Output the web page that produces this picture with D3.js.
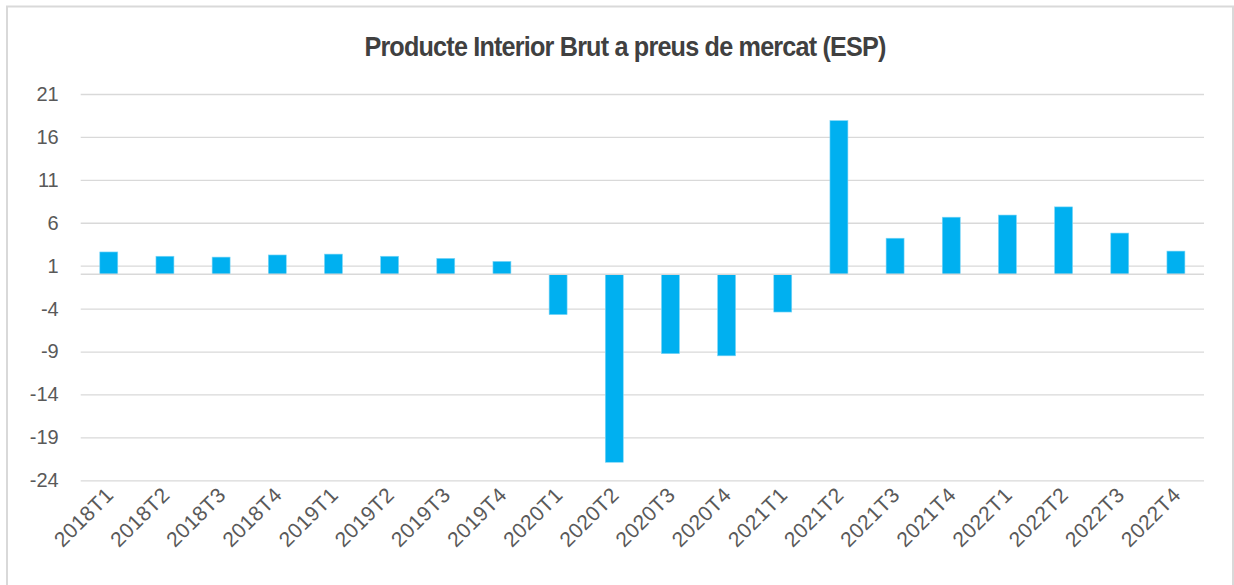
<!DOCTYPE html>
<html>
<head>
<meta charset="utf-8">
<script src="https://cdn.jsdelivr.net/npm/d3@7"></script>
<style>
  body { margin: 0; background: #fff; }
  svg { display: block; }
</style>
</head>
<body>
<script>
const quarters = ['2018T1','2018T2','2018T3','2018T4','2019T1','2019T2','2019T3','2019T4',
  '2020T1','2020T2','2020T3','2020T4','2021T1','2021T2','2021T3','2021T4',
  '2022T1','2022T2','2022T3','2022T4'];
const pibValues = [2.6, 2.1, 2.0, 2.25, 2.35, 2.1, 1.85, 1.5,
  -4.7, -21.9, -9.25, -9.5, -4.4, 17.9, 4.2, 6.65,
  6.9, 7.85, 4.8, 2.7];
const yTicks = [21, 16, 11, 6, 1, -4, -9, -14, -19, -24];
const TITLE = 'Producte Interior Brut a preus de mercat (ESP)';

const WIDTH = 1234;
const HEIGHT = 585;
const LEFT = 80.7, RIGHT = 1204, TOP = 94, BOTTOM = 480.3;
const FONT = 'Liberation Sans, Arial, sans-serif';

let svg = d3.select('body').append('svg')
  .attr('width', WIDTH)
  .attr('height', HEIGHT);

// outer chart border
svg.append('rect')
  .attr('x', 7).attr('y', 6.5)
  .attr('width', 1226).attr('height', 600)
  .attr('fill', 'none')
  .attr('stroke', '#d9d9d9')
  .attr('stroke-width', 2);

// title, a bit condensed like the original
svg.append('text')
  .attr('transform', 'translate(625,56) scale(0.9,1)')
  .attr('text-anchor', 'middle')
  .attr('font-family', FONT)
  .attr('font-size', 28)
  .attr('font-weight', 'bold')
  .attr('letter-spacing', '-0.9px')
  .attr('fill', '#404040')
  .text(TITLE);

let xScale = d3.scaleBand()
  .domain(quarters)
  .range([LEFT, RIGHT])
  .paddingInner(0.68)
  .paddingOuter(0.34);

let yScale = d3.scaleLinear()
  .domain([-24, 21])
  .range([BOTTOM, TOP]);

// gridlines + y labels
let yAxis = d3.axisLeft(yScale)
  .tickValues(yTicks)
  .tickSize(-(RIGHT - LEFT))
  .tickPadding(22)
  .tickFormat(d => String(d));

let gy = svg.append('g')
  .attr('transform', `translate(${LEFT},0)`)
  .call(yAxis);
gy.select('.domain').remove();
gy.selectAll('line').attr('stroke', '#d9d9d9').attr('stroke-width', 1.3);
gy.selectAll('text')
  .attr('font-family', FONT)
  .attr('font-size', 20)
  .attr('fill', '#595959');

// bars
svg.selectAll('rect.bar')
  .data(pibValues)
  .enter()
  .append('rect')
  .attr('class', 'bar')
  .attr('x', (d, i) => xScale(quarters[i]))
  .attr('width', xScale.bandwidth())
  .attr('y', d => yScale(Math.max(0, d)))
  .attr('height', d => Math.abs(yScale(d) - yScale(0)))
  .attr('fill', '#00b0f0')
  .attr('stroke', '#7fd6f6')
  .attr('stroke-width', 0.6);

// zero axis line
svg.append('line')
  .attr('x1', LEFT).attr('x2', RIGHT)
  .attr('y1', yScale(0)).attr('y2', yScale(0))
  .attr('stroke', '#d9d9d9')
  .attr('stroke-width', 1.3);

// x labels
let xAxis = d3.axisBottom(xScale).tickSize(0).tickPadding(0);
let gx = svg.append('g')
  .attr('transform', `translate(0,${BOTTOM})`)
  .call(xAxis);
gx.select('.domain').remove();
gx.selectAll('text')
  .attr('font-family', FONT)
  .attr('font-size', 21)
  .attr('letter-spacing', '0.4px')
  .attr('fill', '#595959')
  .attr('text-anchor', 'end')
  .attr('dy', 0)
  .attr('transform', 'translate(6,16) rotate(-45)');
</script>
</body>
</html>
